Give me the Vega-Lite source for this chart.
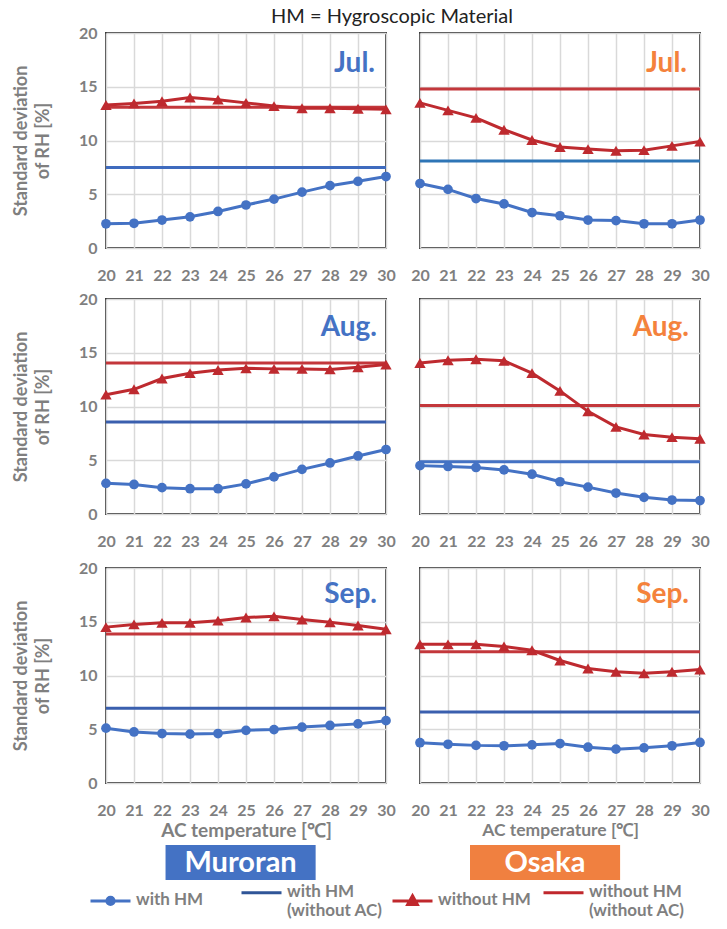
{
  "$schema": "https://vega.github.io/schema/vega-lite/v6.json",
  "padding": {"left": 11, "top": 7, "right": 5, "bottom": 5},
  "title": {"text": "HM = Hygroscopic Material", "fontSize": 20, "fontWeight": "normal", "color": "#222222", "font": "Lato", "anchor": "start", "frame": "group", "dx": 165, "offset": -3},
  "datasets": {
    "curves": [
      {"city":"Muroran","month":"Jul.","series":"with HM","T":20,"value":2.25},
      {"city":"Muroran","month":"Jul.","series":"with HM","T":21,"value":2.3},
      {"city":"Muroran","month":"Jul.","series":"with HM","T":22,"value":2.6},
      {"city":"Muroran","month":"Jul.","series":"with HM","T":23,"value":2.9},
      {"city":"Muroran","month":"Jul.","series":"with HM","T":24,"value":3.4},
      {"city":"Muroran","month":"Jul.","series":"with HM","T":25,"value":4.0},
      {"city":"Muroran","month":"Jul.","series":"with HM","T":26,"value":4.55},
      {"city":"Muroran","month":"Jul.","series":"with HM","T":27,"value":5.2},
      {"city":"Muroran","month":"Jul.","series":"with HM","T":28,"value":5.8},
      {"city":"Muroran","month":"Jul.","series":"with HM","T":29,"value":6.2},
      {"city":"Muroran","month":"Jul.","series":"with HM","T":30,"value":6.65},
      {"city":"Muroran","month":"Jul.","series":"without HM","T":20,"value":13.3},
      {"city":"Muroran","month":"Jul.","series":"without HM","T":21,"value":13.45},
      {"city":"Muroran","month":"Jul.","series":"without HM","T":22,"value":13.65},
      {"city":"Muroran","month":"Jul.","series":"without HM","T":23,"value":14.0},
      {"city":"Muroran","month":"Jul.","series":"without HM","T":24,"value":13.8},
      {"city":"Muroran","month":"Jul.","series":"without HM","T":25,"value":13.5},
      {"city":"Muroran","month":"Jul.","series":"without HM","T":26,"value":13.2},
      {"city":"Muroran","month":"Jul.","series":"without HM","T":27,"value":13.0},
      {"city":"Muroran","month":"Jul.","series":"without HM","T":28,"value":13.0},
      {"city":"Muroran","month":"Jul.","series":"without HM","T":29,"value":12.95},
      {"city":"Muroran","month":"Jul.","series":"without HM","T":30,"value":12.9},
      {"city":"Osaka","month":"Jul.","series":"with HM","T":20,"value":6.0},
      {"city":"Osaka","month":"Jul.","series":"with HM","T":21,"value":5.45},
      {"city":"Osaka","month":"Jul.","series":"with HM","T":22,"value":4.6},
      {"city":"Osaka","month":"Jul.","series":"with HM","T":23,"value":4.1},
      {"city":"Osaka","month":"Jul.","series":"with HM","T":24,"value":3.3},
      {"city":"Osaka","month":"Jul.","series":"with HM","T":25,"value":3.0},
      {"city":"Osaka","month":"Jul.","series":"with HM","T":26,"value":2.6},
      {"city":"Osaka","month":"Jul.","series":"with HM","T":27,"value":2.55},
      {"city":"Osaka","month":"Jul.","series":"with HM","T":28,"value":2.25},
      {"city":"Osaka","month":"Jul.","series":"with HM","T":29,"value":2.25},
      {"city":"Osaka","month":"Jul.","series":"with HM","T":30,"value":2.6},
      {"city":"Osaka","month":"Jul.","series":"without HM","T":20,"value":13.5},
      {"city":"Osaka","month":"Jul.","series":"without HM","T":21,"value":12.8},
      {"city":"Osaka","month":"Jul.","series":"without HM","T":22,"value":12.1},
      {"city":"Osaka","month":"Jul.","series":"without HM","T":23,"value":11.0},
      {"city":"Osaka","month":"Jul.","series":"without HM","T":24,"value":10.05},
      {"city":"Osaka","month":"Jul.","series":"without HM","T":25,"value":9.4},
      {"city":"Osaka","month":"Jul.","series":"without HM","T":26,"value":9.2},
      {"city":"Osaka","month":"Jul.","series":"without HM","T":27,"value":9.05},
      {"city":"Osaka","month":"Jul.","series":"without HM","T":28,"value":9.1},
      {"city":"Osaka","month":"Jul.","series":"without HM","T":29,"value":9.5},
      {"city":"Osaka","month":"Jul.","series":"without HM","T":30,"value":9.9},
      {"city":"Muroran","month":"Aug.","series":"with HM","T":20,"value":2.85},
      {"city":"Muroran","month":"Aug.","series":"with HM","T":21,"value":2.75},
      {"city":"Muroran","month":"Aug.","series":"with HM","T":22,"value":2.45},
      {"city":"Muroran","month":"Aug.","series":"with HM","T":23,"value":2.35},
      {"city":"Muroran","month":"Aug.","series":"with HM","T":24,"value":2.35},
      {"city":"Muroran","month":"Aug.","series":"with HM","T":25,"value":2.8},
      {"city":"Muroran","month":"Aug.","series":"with HM","T":26,"value":3.45},
      {"city":"Muroran","month":"Aug.","series":"with HM","T":27,"value":4.15},
      {"city":"Muroran","month":"Aug.","series":"with HM","T":28,"value":4.75},
      {"city":"Muroran","month":"Aug.","series":"with HM","T":29,"value":5.4},
      {"city":"Muroran","month":"Aug.","series":"with HM","T":30,"value":6.0},
      {"city":"Muroran","month":"Aug.","series":"without HM","T":20,"value":11.1},
      {"city":"Muroran","month":"Aug.","series":"without HM","T":21,"value":11.6},
      {"city":"Muroran","month":"Aug.","series":"without HM","T":22,"value":12.6},
      {"city":"Muroran","month":"Aug.","series":"without HM","T":23,"value":13.1},
      {"city":"Muroran","month":"Aug.","series":"without HM","T":24,"value":13.4},
      {"city":"Muroran","month":"Aug.","series":"without HM","T":25,"value":13.55},
      {"city":"Muroran","month":"Aug.","series":"without HM","T":26,"value":13.5},
      {"city":"Muroran","month":"Aug.","series":"without HM","T":27,"value":13.5},
      {"city":"Muroran","month":"Aug.","series":"without HM","T":28,"value":13.45},
      {"city":"Muroran","month":"Aug.","series":"without HM","T":29,"value":13.65},
      {"city":"Muroran","month":"Aug.","series":"without HM","T":30,"value":13.9},
      {"city":"Osaka","month":"Aug.","series":"with HM","T":20,"value":4.5},
      {"city":"Osaka","month":"Aug.","series":"with HM","T":21,"value":4.42},
      {"city":"Osaka","month":"Aug.","series":"with HM","T":22,"value":4.33},
      {"city":"Osaka","month":"Aug.","series":"with HM","T":23,"value":4.1},
      {"city":"Osaka","month":"Aug.","series":"with HM","T":24,"value":3.7},
      {"city":"Osaka","month":"Aug.","series":"with HM","T":25,"value":3.0},
      {"city":"Osaka","month":"Aug.","series":"with HM","T":26,"value":2.5},
      {"city":"Osaka","month":"Aug.","series":"with HM","T":27,"value":1.95},
      {"city":"Osaka","month":"Aug.","series":"with HM","T":28,"value":1.55},
      {"city":"Osaka","month":"Aug.","series":"with HM","T":29,"value":1.3},
      {"city":"Osaka","month":"Aug.","series":"with HM","T":30,"value":1.25},
      {"city":"Osaka","month":"Aug.","series":"without HM","T":20,"value":14.05},
      {"city":"Osaka","month":"Aug.","series":"without HM","T":21,"value":14.3},
      {"city":"Osaka","month":"Aug.","series":"without HM","T":22,"value":14.4},
      {"city":"Osaka","month":"Aug.","series":"without HM","T":23,"value":14.25},
      {"city":"Osaka","month":"Aug.","series":"without HM","T":24,"value":13.1},
      {"city":"Osaka","month":"Aug.","series":"without HM","T":25,"value":11.45},
      {"city":"Osaka","month":"Aug.","series":"without HM","T":26,"value":9.55},
      {"city":"Osaka","month":"Aug.","series":"without HM","T":27,"value":8.1},
      {"city":"Osaka","month":"Aug.","series":"without HM","T":28,"value":7.4},
      {"city":"Osaka","month":"Aug.","series":"without HM","T":29,"value":7.15},
      {"city":"Osaka","month":"Aug.","series":"without HM","T":30,"value":7.0},
      {"city":"Muroran","month":"Sep.","series":"with HM","T":20,"value":5.1},
      {"city":"Muroran","month":"Sep.","series":"with HM","T":21,"value":4.75},
      {"city":"Muroran","month":"Sep.","series":"with HM","T":22,"value":4.6},
      {"city":"Muroran","month":"Sep.","series":"with HM","T":23,"value":4.55},
      {"city":"Muroran","month":"Sep.","series":"with HM","T":24,"value":4.6},
      {"city":"Muroran","month":"Sep.","series":"with HM","T":25,"value":4.9},
      {"city":"Muroran","month":"Sep.","series":"with HM","T":26,"value":4.97},
      {"city":"Muroran","month":"Sep.","series":"with HM","T":27,"value":5.2},
      {"city":"Muroran","month":"Sep.","series":"with HM","T":28,"value":5.35},
      {"city":"Muroran","month":"Sep.","series":"with HM","T":29,"value":5.5},
      {"city":"Muroran","month":"Sep.","series":"with HM","T":30,"value":5.8},
      {"city":"Muroran","month":"Sep.","series":"without HM","T":20,"value":14.5},
      {"city":"Muroran","month":"Sep.","series":"without HM","T":21,"value":14.75},
      {"city":"Muroran","month":"Sep.","series":"without HM","T":22,"value":14.9},
      {"city":"Muroran","month":"Sep.","series":"without HM","T":23,"value":14.9},
      {"city":"Muroran","month":"Sep.","series":"without HM","T":24,"value":15.1},
      {"city":"Muroran","month":"Sep.","series":"without HM","T":25,"value":15.4},
      {"city":"Muroran","month":"Sep.","series":"without HM","T":26,"value":15.5},
      {"city":"Muroran","month":"Sep.","series":"without HM","T":27,"value":15.2},
      {"city":"Muroran","month":"Sep.","series":"without HM","T":28,"value":14.95},
      {"city":"Muroran","month":"Sep.","series":"without HM","T":29,"value":14.65},
      {"city":"Muroran","month":"Sep.","series":"without HM","T":30,"value":14.3},
      {"city":"Osaka","month":"Sep.","series":"with HM","T":20,"value":3.75},
      {"city":"Osaka","month":"Sep.","series":"with HM","T":21,"value":3.6},
      {"city":"Osaka","month":"Sep.","series":"with HM","T":22,"value":3.5},
      {"city":"Osaka","month":"Sep.","series":"with HM","T":23,"value":3.46},
      {"city":"Osaka","month":"Sep.","series":"with HM","T":24,"value":3.55},
      {"city":"Osaka","month":"Sep.","series":"with HM","T":25,"value":3.67},
      {"city":"Osaka","month":"Sep.","series":"with HM","T":26,"value":3.33},
      {"city":"Osaka","month":"Sep.","series":"with HM","T":27,"value":3.15},
      {"city":"Osaka","month":"Sep.","series":"with HM","T":28,"value":3.27},
      {"city":"Osaka","month":"Sep.","series":"with HM","T":29,"value":3.46},
      {"city":"Osaka","month":"Sep.","series":"with HM","T":30,"value":3.77},
      {"city":"Osaka","month":"Sep.","series":"without HM","T":20,"value":12.9},
      {"city":"Osaka","month":"Sep.","series":"without HM","T":21,"value":12.9},
      {"city":"Osaka","month":"Sep.","series":"without HM","T":22,"value":12.9},
      {"city":"Osaka","month":"Sep.","series":"without HM","T":23,"value":12.7},
      {"city":"Osaka","month":"Sep.","series":"without HM","T":24,"value":12.35},
      {"city":"Osaka","month":"Sep.","series":"without HM","T":25,"value":11.4},
      {"city":"Osaka","month":"Sep.","series":"without HM","T":26,"value":10.65},
      {"city":"Osaka","month":"Sep.","series":"without HM","T":27,"value":10.35},
      {"city":"Osaka","month":"Sep.","series":"without HM","T":28,"value":10.2},
      {"city":"Osaka","month":"Sep.","series":"without HM","T":29,"value":10.35},
      {"city":"Osaka","month":"Sep.","series":"without HM","T":30,"value":10.55}
    ],
    "noac": [
      {"city":"Muroran","month":"Jul.","series":"with HM (without AC)","value":7.5},
      {"city":"Muroran","month":"Jul.","series":"without HM (without AC)","value":13.1},
      {"city":"Osaka","month":"Jul.","series":"with HM (without AC)","value":8.1},
      {"city":"Osaka","month":"Jul.","series":"without HM (without AC)","value":14.8},
      {"city":"Muroran","month":"Aug.","series":"with HM (without AC)","value":8.55},
      {"city":"Muroran","month":"Aug.","series":"without HM (without AC)","value":14.05},
      {"city":"Osaka","month":"Aug.","series":"with HM (without AC)","value":4.85},
      {"city":"Osaka","month":"Aug.","series":"without HM (without AC)","value":10.1},
      {"city":"Muroran","month":"Sep.","series":"with HM (without AC)","value":6.95},
      {"city":"Muroran","month":"Sep.","series":"without HM (without AC)","value":13.85},
      {"city":"Osaka","month":"Sep.","series":"with HM (without AC)","value":6.6},
      {"city":"Osaka","month":"Sep.","series":"without HM (without AC)","value":12.2}
    ],
    "cities": [
      {"city":"Muroran"},
      {"city":"Osaka"}
    ],
    "legenditems": [
      {"series":"with HM"},
      {"series":"with HM (without AC)"},
      {"series":"without HM"},
      {"series":"without HM (without AC)"}
    ]
  },
  "spacing": 4,
  "vconcat": [
    {
      "spacing": 9,
      "vconcat": [
        {
          "spacing": 6,
          "vconcat": [
            {
              "bounds": "flush",
              "spacing": 34,
              "hconcat": [
                {
                  "width": 280, "height": 215,
                  "layer": [
                    {"data":{"name":"noac"},"transform":[{"filter":"datum.city==='Muroran' && datum.month==='Jul.' && datum.series==='without HM (without AC)'"}],"mark":{"type":"rule","color":"#C3373B","strokeWidth":3},"encoding":{"y":{"field":"value","type":"quantitative","scale":{"domain":[0,20]}}}},
                    {"data":{"name":"noac"},"transform":[{"filter":"datum.city==='Muroran' && datum.month==='Jul.' && datum.series==='with HM (without AC)'"}],"mark":{"type":"rule","color":"#3F6BBE","strokeWidth":3},"encoding":{"y":{"field":"value","type":"quantitative","scale":{"domain":[0,20]}}}},
                    {"data":{"name":"curves"},"transform":[{"filter":"datum.city==='Muroran' && datum.month==='Jul.' && datum.series==='without HM'"}],"mark":{"type":"line","color":"#BE2A2F","strokeWidth":3,"point":{"shape":"triangle-up","size":130,"filled":true,"color":"#BE2A2F"}},"encoding":{"x":{"field":"T","type":"quantitative","scale":{"domain":[20,30]},"axis":{"title":null,"labelPadding":19}},"y":{"field":"value","type":"quantitative","scale":{"domain":[0,20]},"axis":{"title":["Standard deviation","of RH [%]"],"labelPadding":9}}}},
                    {"data":{"name":"curves"},"transform":[{"filter":"datum.city==='Muroran' && datum.month==='Jul.' && datum.series==='with HM'"}],"mark":{"type":"line","color":"#4472C4","strokeWidth":3,"point":{"shape":"circle","size":95,"filled":true,"color":"#4472C4"}},"encoding":{"x":{"field":"T","type":"quantitative","scale":{"domain":[20,30]},"axis":{"title":null}},"y":{"field":"value","type":"quantitative","scale":{"domain":[0,20]}}}},
                    {"data":{"name":"noac"},"transform":[{"filter":"datum.city==='Muroran' && datum.month==='Jul.' && datum.series==='with HM (without AC)'"}],"mark":{"type":"text","color":"#4472C4","fontSize":28,"fontWeight":"bold","font":"Lato","align":"right","baseline":"alphabetic","dx":-11},"encoding":{"text":{"field":"month"},"x":{"datum":30,"type":"quantitative","axis":{"title":null}},"y":{"datum":16.4,"type":"quantitative"}}}
                  ]
                },
                {
                  "width": 280, "height": 215,
                  "layer": [
                    {"data":{"name":"noac"},"transform":[{"filter":"datum.city==='Osaka' && datum.month==='Jul.' && datum.series==='without HM (without AC)'"}],"mark":{"type":"rule","color":"#C3373B","strokeWidth":3},"encoding":{"y":{"field":"value","type":"quantitative","scale":{"domain":[0,20]}}}},
                    {"data":{"name":"noac"},"transform":[{"filter":"datum.city==='Osaka' && datum.month==='Jul.' && datum.series==='with HM (without AC)'"}],"mark":{"type":"rule","color":"#2E75B6","strokeWidth":3},"encoding":{"y":{"field":"value","type":"quantitative","scale":{"domain":[0,20]}}}},
                    {"data":{"name":"curves"},"transform":[{"filter":"datum.city==='Osaka' && datum.month==='Jul.' && datum.series==='without HM'"}],"mark":{"type":"line","color":"#BE2A2F","strokeWidth":3,"point":{"shape":"triangle-up","size":130,"filled":true,"color":"#BE2A2F"}},"encoding":{"x":{"field":"T","type":"quantitative","scale":{"domain":[20,30]},"axis":{"title":null,"labelPadding":19}},"y":{"field":"value","type":"quantitative","scale":{"domain":[0,20]},"axis":{"labels":false,"title":null}}}},
                    {"data":{"name":"curves"},"transform":[{"filter":"datum.city==='Osaka' && datum.month==='Jul.' && datum.series==='with HM'"}],"mark":{"type":"line","color":"#4472C4","strokeWidth":3,"point":{"shape":"circle","size":95,"filled":true,"color":"#4472C4"}},"encoding":{"x":{"field":"T","type":"quantitative","scale":{"domain":[20,30]},"axis":{"title":null}},"y":{"field":"value","type":"quantitative","scale":{"domain":[0,20]}}}},
                    {"data":{"name":"noac"},"transform":[{"filter":"datum.city==='Osaka' && datum.month==='Jul.' && datum.series==='with HM (without AC)'"}],"mark":{"type":"text","color":"#F4823C","fontSize":28,"fontWeight":"bold","font":"Lato","align":"right","baseline":"alphabetic","dx":-13},"encoding":{"text":{"field":"month"},"x":{"datum":30,"type":"quantitative","axis":{"title":null}},"y":{"datum":16.4,"type":"quantitative"}}}
                  ]
                }
              ]
            },
            {
              "bounds": "flush",
              "spacing": 34,
              "hconcat": [
                {
                  "width": 280, "height": 215,
                  "layer": [
                    {"data":{"name":"noac"},"transform":[{"filter":"datum.city==='Muroran' && datum.month==='Aug.' && datum.series==='without HM (without AC)'"}],"mark":{"type":"rule","color":"#C3373B","strokeWidth":3},"encoding":{"y":{"field":"value","type":"quantitative","scale":{"domain":[0,20]}}}},
                    {"data":{"name":"noac"},"transform":[{"filter":"datum.city==='Muroran' && datum.month==='Aug.' && datum.series==='with HM (without AC)'"}],"mark":{"type":"rule","color":"#3A5FAE","strokeWidth":3},"encoding":{"y":{"field":"value","type":"quantitative","scale":{"domain":[0,20]}}}},
                    {"data":{"name":"curves"},"transform":[{"filter":"datum.city==='Muroran' && datum.month==='Aug.' && datum.series==='without HM'"}],"mark":{"type":"line","color":"#BE2A2F","strokeWidth":3,"point":{"shape":"triangle-up","size":130,"filled":true,"color":"#BE2A2F"}},"encoding":{"x":{"field":"T","type":"quantitative","scale":{"domain":[20,30]},"axis":{"title":null,"labelPadding":19}},"y":{"field":"value","type":"quantitative","scale":{"domain":[0,20]},"axis":{"title":["Standard deviation","of RH [%]"],"labelPadding":9}}}},
                    {"data":{"name":"curves"},"transform":[{"filter":"datum.city==='Muroran' && datum.month==='Aug.' && datum.series==='with HM'"}],"mark":{"type":"line","color":"#4472C4","strokeWidth":3,"point":{"shape":"circle","size":95,"filled":true,"color":"#4472C4"}},"encoding":{"x":{"field":"T","type":"quantitative","scale":{"domain":[20,30]},"axis":{"title":null}},"y":{"field":"value","type":"quantitative","scale":{"domain":[0,20]}}}},
                    {"data":{"name":"noac"},"transform":[{"filter":"datum.city==='Muroran' && datum.month==='Aug.' && datum.series==='with HM (without AC)'"}],"mark":{"type":"text","color":"#4472C4","fontSize":28,"fontWeight":"bold","font":"Lato","align":"right","baseline":"alphabetic","dx":-9},"encoding":{"text":{"field":"month"},"x":{"datum":30,"type":"quantitative","axis":{"title":null}},"y":{"datum":16.6,"type":"quantitative"}}}
                  ]
                },
                {
                  "width": 280, "height": 215,
                  "layer": [
                    {"data":{"name":"noac"},"transform":[{"filter":"datum.city==='Osaka' && datum.month==='Aug.' && datum.series==='without HM (without AC)'"}],"mark":{"type":"rule","color":"#C3373B","strokeWidth":3},"encoding":{"y":{"field":"value","type":"quantitative","scale":{"domain":[0,20]}}}},
                    {"data":{"name":"noac"},"transform":[{"filter":"datum.city==='Osaka' && datum.month==='Aug.' && datum.series==='with HM (without AC)'"}],"mark":{"type":"rule","color":"#4472C4","strokeWidth":3},"encoding":{"y":{"field":"value","type":"quantitative","scale":{"domain":[0,20]}}}},
                    {"data":{"name":"curves"},"transform":[{"filter":"datum.city==='Osaka' && datum.month==='Aug.' && datum.series==='without HM'"}],"mark":{"type":"line","color":"#BE2A2F","strokeWidth":3,"point":{"shape":"triangle-up","size":130,"filled":true,"color":"#BE2A2F"}},"encoding":{"x":{"field":"T","type":"quantitative","scale":{"domain":[20,30]},"axis":{"title":null,"labelPadding":19}},"y":{"field":"value","type":"quantitative","scale":{"domain":[0,20]},"axis":{"labels":false,"title":null}}}},
                    {"data":{"name":"curves"},"transform":[{"filter":"datum.city==='Osaka' && datum.month==='Aug.' && datum.series==='with HM'"}],"mark":{"type":"line","color":"#4472C4","strokeWidth":3,"point":{"shape":"circle","size":95,"filled":true,"color":"#4472C4"}},"encoding":{"x":{"field":"T","type":"quantitative","scale":{"domain":[20,30]},"axis":{"title":null}},"y":{"field":"value","type":"quantitative","scale":{"domain":[0,20]}}}},
                    {"data":{"name":"noac"},"transform":[{"filter":"datum.city==='Osaka' && datum.month==='Aug.' && datum.series==='with HM (without AC)'"}],"mark":{"type":"text","color":"#F4823C","fontSize":28,"fontWeight":"bold","font":"Lato","align":"right","baseline":"alphabetic","dx":-11},"encoding":{"text":{"field":"month"},"x":{"datum":30,"type":"quantitative","axis":{"title":null}},"y":{"datum":16.6,"type":"quantitative"}}}
                  ]
                }
              ]
            }
          ]
        },
        {
          "bounds": "flush",
          "spacing": 34,
          "hconcat": [
            {
              "width": 280, "height": 215,
              "layer": [
                {"data":{"name":"noac"},"transform":[{"filter":"datum.city==='Muroran' && datum.month==='Sep.' && datum.series==='without HM (without AC)'"}],"mark":{"type":"rule","color":"#C3373B","strokeWidth":3},"encoding":{"y":{"field":"value","type":"quantitative","scale":{"domain":[0,20]}}}},
                {"data":{"name":"noac"},"transform":[{"filter":"datum.city==='Muroran' && datum.month==='Sep.' && datum.series==='with HM (without AC)'"}],"mark":{"type":"rule","color":"#3A5FAE","strokeWidth":3},"encoding":{"y":{"field":"value","type":"quantitative","scale":{"domain":[0,20]}}}},
                {"data":{"name":"curves"},"transform":[{"filter":"datum.city==='Muroran' && datum.month==='Sep.' && datum.series==='without HM'"}],"mark":{"type":"line","color":"#BE2A2F","strokeWidth":3,"point":{"shape":"triangle-up","size":130,"filled":true,"color":"#BE2A2F"}},"encoding":{"x":{"field":"T","type":"quantitative","scale":{"domain":[20,30]},"axis":{"title":"AC temperature [℃]","titleFontSize":19,"titlePadding":3,"labelPadding":19}},"y":{"field":"value","type":"quantitative","scale":{"domain":[0,20]},"axis":{"title":["Standard deviation","of RH [%]"],"labelPadding":9}}}},
                {"data":{"name":"curves"},"transform":[{"filter":"datum.city==='Muroran' && datum.month==='Sep.' && datum.series==='with HM'"}],"mark":{"type":"line","color":"#4472C4","strokeWidth":3,"point":{"shape":"circle","size":95,"filled":true,"color":"#4472C4"}},"encoding":{"x":{"field":"T","type":"quantitative","scale":{"domain":[20,30]},"axis":{"title":"AC temperature [℃]"}},"y":{"field":"value","type":"quantitative","scale":{"domain":[0,20]}}}},
                {"data":{"name":"noac"},"transform":[{"filter":"datum.city==='Muroran' && datum.month==='Sep.' && datum.series==='with HM (without AC)'"}],"mark":{"type":"text","color":"#4472C4","fontSize":28,"fontWeight":"bold","font":"Lato","align":"right","baseline":"alphabetic","dx":-9},"encoding":{"text":{"field":"month"},"x":{"datum":30,"type":"quantitative","axis":{"title":"AC temperature [℃]"}},"y":{"datum":16.7,"type":"quantitative"}}}
              ]
            },
            {
              "width": 280, "height": 215,
              "layer": [
                {"data":{"name":"noac"},"transform":[{"filter":"datum.city==='Osaka' && datum.month==='Sep.' && datum.series==='without HM (without AC)'"}],"mark":{"type":"rule","color":"#C3373B","strokeWidth":3},"encoding":{"y":{"field":"value","type":"quantitative","scale":{"domain":[0,20]}}}},
                {"data":{"name":"noac"},"transform":[{"filter":"datum.city==='Osaka' && datum.month==='Sep.' && datum.series==='with HM (without AC)'"}],"mark":{"type":"rule","color":"#3A5FAE","strokeWidth":3},"encoding":{"y":{"field":"value","type":"quantitative","scale":{"domain":[0,20]}}}},
                {"data":{"name":"curves"},"transform":[{"filter":"datum.city==='Osaka' && datum.month==='Sep.' && datum.series==='without HM'"}],"mark":{"type":"line","color":"#BE2A2F","strokeWidth":3,"point":{"shape":"triangle-up","size":130,"filled":true,"color":"#BE2A2F"}},"encoding":{"x":{"field":"T","type":"quantitative","scale":{"domain":[20,30]},"axis":{"title":"AC temperature [℃]","titleFontSize":17.5,"titlePadding":3,"labelPadding":19}},"y":{"field":"value","type":"quantitative","scale":{"domain":[0,20]},"axis":{"labels":false,"title":null}}}},
                {"data":{"name":"curves"},"transform":[{"filter":"datum.city==='Osaka' && datum.month==='Sep.' && datum.series==='with HM'"}],"mark":{"type":"line","color":"#4472C4","strokeWidth":3,"point":{"shape":"circle","size":95,"filled":true,"color":"#4472C4"}},"encoding":{"x":{"field":"T","type":"quantitative","scale":{"domain":[20,30]},"axis":{"title":"AC temperature [℃]"}},"y":{"field":"value","type":"quantitative","scale":{"domain":[0,20]}}}},
                {"data":{"name":"noac"},"transform":[{"filter":"datum.city==='Osaka' && datum.month==='Sep.' && datum.series==='with HM (without AC)'"}],"mark":{"type":"text","color":"#F4823C","fontSize":28,"fontWeight":"bold","font":"Lato","align":"right","baseline":"alphabetic","dx":-11},"encoding":{"text":{"field":"month"},"x":{"datum":30,"type":"quantitative","axis":{"title":"AC temperature [℃]"}},"y":{"datum":16.7,"type":"quantitative"}}}
              ]
            }
          ]
        }
      ]
    },
    {
      "width": 594, "height": 35,
      "view": {"stroke": null},
      "layer": [
        {"data":{"name":"cities"},"mark":{"type":"rect"},"encoding":{"x":{"field":"city","type":"nominal","scale":{"paddingInner":0.507,"paddingOuter":0.229,"align":0.427},"axis":null},"color":{"field":"city","type":"nominal","scale":{"domain":["Muroran","Osaka"],"range":["#4472C4","#F08040"]},"legend":null}}},
        {"data":{"name":"cities"},"mark":{"type":"text","color":"white","fontSize":29,"fontWeight":"bold","font":"Lato"},"encoding":{"x":{"field":"city","type":"nominal"},"text":{"field":"city"}}},
        {"data":{"name":"legenditems"},"mark":{"type":"point","filled":true,"opacity":0,"strokeWidth":3},
         "encoding":{
           "fill":{"field":"series","type":"nominal","scale":{"domain":["with HM","with HM (without AC)","without HM","without HM (without AC)"],"range":["#4472C4","#2F5597","#C0282D","#C0282D"]},"legend":{"title":null,"labelExpr":"indexof(datum.label, ' (') > 0 ? [slice(datum.label, 0, indexof(datum.label, ' (')), slice(datum.label, indexof(datum.label, ' (') + 1)] : datum.label","encode":{"labels":{"update":{"dy":{"value":-9}}}}}},
           "stroke":{"field":"series","type":"nominal","scale":{"domain":["with HM","with HM (without AC)","without HM","without HM (without AC)"],"range":["#4472C4","#2F5597","#C0282D","#C0282D"]},"legend":{"title":null,"labelExpr":"indexof(datum.label, ' (') > 0 ? [slice(datum.label, 0, indexof(datum.label, ' (')), slice(datum.label, indexof(datum.label, ' (') + 1)] : datum.label"}},
           "shape":{"field":"series","type":"nominal","scale":{"domain":["with HM","with HM (without AC)","without HM","without HM (without AC)"],"range":["M-1,0H1M0.18,0A0.18,0.18,0,1,1,-0.18,0A0.18,0.18,0,1,1,0.18,0Z","M-1,0H1","M-1,0H1M0,-0.26L0.24,0.17L-0.24,0.17Z","M-1,0H1"]},"legend":{"title":null,"labelExpr":"indexof(datum.label, ' (') > 0 ? [slice(datum.label, 0, indexof(datum.label, ' (')), slice(datum.label, indexof(datum.label, ' (') + 1)] : datum.label"}}
         }}
      ]
    }
  ],
  "config": {
    "font": "Lato",
    "view": {"stroke": "#3a3a3a", "strokeWidth": 2},
    "axis": {"grid": true, "gridColor": "#D9D9D9", "gridWidth": 1.5, "domain": false, "ticks": false, "labelFont": "Lato", "labelFontSize": 16, "labelFontWeight": "bold", "labelColor": "#7F7F7F", "labelFlush": false, "labelPadding": 10, "titleFont": "Lato", "titleFontSize": 18, "titleFontWeight": "bold", "titleColor": "#7F7F7F", "titleLineHeight": 22, "titlePadding": 26},
    "axisX": {"tickCount": 10, "labelPadding": 19, "titlePadding": 3},
    "axisY": {"tickCount": 4},
    "legend": {"orient": "none", "legendX": -17, "legendY": 838, "direction": "horizontal", "symbolSize": 1600, "symbolStrokeWidth": 3, "symbolOpacity": 1, "labelOffset": 4, "columnPadding": 3, "gridAlign": "all", "labelFont": "Lato", "labelFontSize": 17, "labelFontWeight": "bold", "labelColor": "#7F7F7F", "labelBaseline": "top", "labelLineHeight": 19}
  }
}
